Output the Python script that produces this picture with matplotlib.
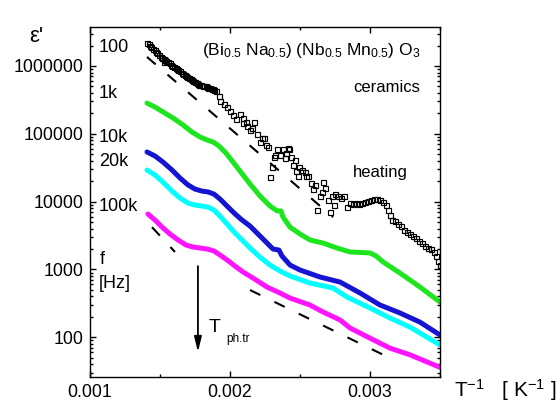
import matplotlib
matplotlib.use("Agg")
import matplotlib.pyplot as plt
from matplotlib.ticker import FixedLocator, FuncFormatter, LogLocator, NullFormatter

plt.rcParams["font.family"] = ["Liberation Sans", "DejaVu Sans"]
plt.rcParams["mathtext.fontset"] = "custom"
plt.rcParams["mathtext.rm"] = "Liberation Sans"
plt.rcParams["mathtext.it"] = "Liberation Sans:italic"
plt.rcParams["mathtext.bf"] = "Liberation Sans:bold"

# ---------------- data: inverse temperature [1/K] and permittivity ----------------
# f = 100 Hz (open squares)
inv_t_100 = [0.001407, 0.001418, 0.001429, 0.001439, 0.001450, 0.001461, 0.001471, 0.001482,
             0.001493, 0.001504, 0.001514, 0.001525, 0.001529, 0.001536, 0.001546, 0.001557,
             0.001568, 0.001579, 0.001589, 0.001600, 0.001611, 0.001621, 0.001632, 0.001643,
             0.001654, 0.001664, 0.001675, 0.001686, 0.001696, 0.001707, 0.001718, 0.001729,
             0.001739, 0.001750, 0.001761, 0.001771, 0.001782, 0.001793, 0.001804, 0.001814,
             0.001825, 0.001836, 0.001846, 0.001857, 0.001868, 0.001879, 0.001889, 0.001900,
             0.001921, 0.001929, 0.001957, 0.001979, 0.002000, 0.002021, 0.002043,
             0.002071, 0.002093, 0.002121, 0.002143, 0.002171, 0.002193, 0.002214, 0.002243,
             0.002271, 0.002286, 0.002300, 0.002314, 0.002336, 0.002357, 0.002379, 0.002400,
             0.002421, 0.002436, 0.002450, 0.002471, 0.002493, 0.002514, 0.002536, 0.002557,
             0.002579, 0.002593, 0.002621, 0.002643, 0.002664, 0.002679, 0.002700, 0.002714,
             0.002729, 0.002750, 0.002771, 0.002793, 0.002814, 0.002836, 0.002857, 0.002879,
             0.002900, 0.002921, 0.002943, 0.002964, 0.002986, 0.003007, 0.003029, 0.003050,
             0.003071, 0.003093, 0.003114, 0.003129, 0.003143, 0.003157, 0.003179, 0.003200,
             0.003221, 0.003243, 0.003264, 0.003286, 0.003307, 0.003329, 0.003350, 0.003371,
             0.003393, 0.003414, 0.003436, 0.003457, 0.003471, 0.003486, 0.003500,
             # scattered readings in the noisy range
             0.002093, 0.002114, 0.002157, 0.002229, 0.002257, 0.002321, 0.002393, 0.002414,
             0.002464, 0.002486, 0.002543, 0.002607, 0.002657, 0.002743]
eps_100 = [2.19e6, 2.08e6, 1.98e6, 1.88e6, 1.79e6, 1.70e6, 1.61e6, 1.53e6,
           1.46e6, 1.38e6, 1.31e6, 1.27e6, 1.15e6, 1.23e6, 1.19e6, 1.15e6,
           1.09e6, 1.03e6, 1.0e6, 9.7e5, 9.3e5, 9.0e5, 8.7e5, 8.4e5,
           8.0e5, 7.6e5, 7.3e5, 7.1e5, 6.8e5, 6.6e5, 6.4e5, 6.2e5,
           6.0e5, 5.8e5, 5.6e5, 5.4e5, 5.3e5, 5.2e5, 5.15e5, 5.1e5,
           5.0e5, 4.9e5, 4.8e5, 4.7e5, 4.6e5, 4.56e5, 4.4e5, 4.26e5,
           3.6e5, 3.03e5, 2.74e5, 2.47e5, 2.15e5, 1.88e5, 1.64e5,
           1.95e5, 1.43e5, 1.29e5, 1.13e5, 1.48e5, 9.8e4, 7.7e4, 8.6e4,
           6.3e4, 2.27e4, 3.2e4, 4.5e4, 5.9e4, 4.8e4, 5.9e4, 5.3e4,
           5.9e4, 4.5e4, 3.5e4, 2.8e4, 3.2e4, 2.9e4, 2.7e4, 2.35e4,
           1.91e4, 1.51e4, 7.6e3, 1.19e4, 1.98e4, 1.61e4, 1.07e4, 7.1e3,
           1.19e4, 1.31e4, 1.23e4, 1.15e4, 1.19e4, 8.2e3, 9.7e3, 9.3e3,
           9.7e3, 9.3e3, 9.7e3, 1.0e4, 1.03e4, 1.07e4, 1.11e4, 1.11e4,
           1.07e4, 1.0e4, 9.0e3, 7.6e3, 6.4e3, 5.4e3, 5.1e3, 4.7e3,
           4.4e3, 3.85e3, 3.6e3, 3.36e3, 3.13e3, 2.93e3, 2.64e3, 2.47e3,
           2.23e3, 2.08e3, 2.01e3, 1.82e3, 1.58e3, 1.34e3, 1.17e3,
           1.71e5, 1.49e5, 1.22e5, 8.7e4, 6.8e4, 4.9e4, 4.4e4, 6.2e4,
           4.1e4, 2.4e4, 2.4e4, 1.76e4, 1.39e4, 8.9e3]

# f = 1 kHz
inv_t_1k = [0.001407, 0.001464, 0.001521, 0.001593, 0.001664, 0.001729, 0.001786, 0.001836,
            0.001879, 0.001921, 0.001971, 0.002021, 0.002071, 0.002143, 0.002214, 0.002286,
            0.002336, 0.002364, 0.002379, 0.002429, 0.002500, 0.002571, 0.002664, 0.002764,
            0.002857, 0.003000, 0.003043, 0.003093, 0.003214, 0.003357, 0.003500]
eps_1k = [2.84e5, 2.48e5, 2.10e5, 1.71e5, 1.35e5, 1.06e5, 8.98e4, 8.1e4,
          7.57e4, 6.6e4, 5.2e4, 3.84e4, 2.83e4, 1.82e4, 1.21e4, 8.6e3,
          7.3e3, 7.3e3, 5.9e3, 4.2e3, 3.33e3, 2.72e3, 2.45e3, 2.07e3,
          1.81e3, 1.75e3, 1.58e3, 1.29e3, 885, 550, 330]

# f = 10 kHz
inv_t_10k = [0.001407, 0.001464, 0.001521, 0.001586, 0.001643, 0.001700, 0.001750, 0.001800,
             0.001843, 0.001886, 0.001929, 0.001979, 0.002029, 0.002079, 0.002143, 0.002200,
             0.002257, 0.002307, 0.002350, 0.002371, 0.002429, 0.002500, 0.002643, 0.002786,
             0.002929, 0.003071, 0.003214, 0.003357, 0.003500]
eps_10k = [5.4e4, 4.71e4, 3.84e4, 2.92e4, 2.23e4, 1.76e4, 1.53e4, 1.43e4,
           1.39e4, 1.29e4, 1.09e4, 8.6e3, 6.8e3, 5.5e3, 4.36e3, 3.33e3,
           2.54e3, 2.0e3, 1.93e3, 1.58e3, 1.16e3, 980, 773, 652,
           449, 299, 228, 167, 108]

# f = 20 kHz
inv_t_20k = [0.001407, 0.001464, 0.001521, 0.001586, 0.001643, 0.001700, 0.001750, 0.001800,
             0.001843, 0.001886, 0.001929, 0.001979, 0.002029, 0.002079, 0.002143, 0.002214,
             0.002286, 0.002357, 0.002429, 0.002571, 0.002736, 0.002836, 0.003000, 0.003143,
             0.003286, 0.003500]
eps_20k = [2.92e4, 2.47e4, 1.94e4, 1.43e4, 1.13e4, 9.5e3, 8.9e3, 8.6e3,
           8.3e3, 7.5e3, 6.1e3, 4.68e3, 3.56e3, 2.81e3, 2.07e3, 1.52e3,
           1.16e3, 947, 800, 630, 532, 392, 270, 192,
           141, 77]

# f = 100 kHz
inv_t_100k = [0.001414, 0.001464, 0.001514, 0.001571, 0.001629, 0.001686, 0.001736, 0.001786,
              0.001836, 0.001886, 0.001929, 0.001979, 0.002036, 0.002093, 0.002164, 0.002264,
              0.002357, 0.002429, 0.002571, 0.002664, 0.002786, 0.002857, 0.003000, 0.003143,
              0.003286, 0.003500]
eps_100k = [6.56e3, 5.35e3, 4.22e3, 3.33e3, 2.72e3, 2.29e3, 2.14e3, 2.07e3,
            2.0e3, 1.87e3, 1.63e3, 1.38e3, 1.12e3, 916, 747, 550,
            449, 378, 299, 236, 180, 137, 97, 69,
            55, 36]

# Arrhenius guide lines (start / end points)
guide_high_x = [0.001407, 0.002736]
guide_high_y = [1.36e6, 5.9e3]
guide_low_a_x = [0.001443, 0.001607]
guide_low_a_y = [4.2e3, 1.81e3]
guide_low_b_x = [0.002143, 0.003143]
guide_low_b_y = [497, 49.3]

# phase transition marker
t_phtr_inv = 0.001771
t_phtr_arrow_y = [1.12e3, 60.5]

freq_labels = ["100", "1k", "10k", "20k", "100k"]
y_ticks = [100, 1000, 10000, 100000, 1000000]
x_ticks = [0.001, 0.002, 0.003]
x_tick_labels = ["0.001", "0.002", "0.003"]

# ---------------- figure ----------------
W, H = 556, 403
fig = plt.figure(figsize=(W / 100, H / 100), dpi=100)
ax = fig.add_axes([90 / W, 1 - 376.7 / H, 350 / W, (376.7 - 27.3) / H])


def fp(x, y):
    """pixel position (from top-left) to figure fraction"""
    return x / W, 1 - y / H


line_kw = dict(lw=3.6, solid_capstyle="round", solid_joinstyle="round")
ax.plot(inv_t_1k, eps_1k, color="#1ee61e", **line_kw)
ax.plot(inv_t_10k, eps_10k, color="#1414d2", **line_kw)
ax.plot(inv_t_20k, eps_20k, color="#00ffff", **line_kw)
ax.plot(inv_t_100k, eps_100k, color="#ff14ff", **line_kw)
ax.plot(inv_t_100, eps_100, ls="none", marker="s", ms=3.6, mfc="none",
        mec="black", mew=0.85)

dash_kw = dict(color="black", lw=1.5, ls=(0, (5.5, 7.5)))
ax.plot(guide_high_x, guide_high_y, **dash_kw)
ax.plot(guide_low_a_x, guide_low_a_y, **dash_kw)
ax.plot(guide_low_b_x, guide_low_b_y, **dash_kw)

ax.annotate("", xy=(t_phtr_inv, t_phtr_arrow_y[1]), xytext=(t_phtr_inv, t_phtr_arrow_y[0]),
            arrowprops=dict(arrowstyle="-|>,head_length=0.9,head_width=0.22",
                            color="black", lw=1.3, mutation_scale=10,
                            shrinkA=0, shrinkB=0))

# axes
ax.set_yscale("log")
ax.set_xlim(0.001, 0.0035)
ax.set_ylim(26.2, 3.72e6)
ax.xaxis.set_major_locator(FixedLocator(x_ticks))
ax.xaxis.set_minor_locator(FixedLocator([0.0015, 0.0025, 0.0035]))
ax.set_xticklabels(x_tick_labels)
ax.yaxis.set_major_locator(FixedLocator(y_ticks))
ax.yaxis.set_major_formatter(FuncFormatter(lambda v, p: f"{int(round(v))}"))
ax.yaxis.set_minor_locator(LogLocator(base=10, subs=range(2, 10)))
ax.yaxis.set_minor_formatter(NullFormatter())
ax.tick_params(which="both", direction="in", top=True, right=True, width=1.0,
               labelsize=12.8, pad=5)
ax.tick_params(which="major", length=4)
ax.tick_params(which="minor", length=2.2)
for s in ax.spines.values():
    s.set_linewidth(1.0)

# frequency labels
for lab, ypx in zip(freq_labels, [47, 93, 137, 161, 207]):
    fig.text(*fp(99, ypx), lab, fontsize=13, ha="left", va="center")
fig.text(*fp(100, 260), "f", fontsize=13, ha="left", va="center")
fig.text(*fp(99, 284), "[Hz]", fontsize=13, ha="left", va="center")

fig.text(*fp(202, 51), r"(Bi$_{0.5}$ Na$_{0.5}$) (Nb$_{0.5}$ Mn$_{0.5}$) O$_{3}$",
         fontsize=12.5, ha="left", va="center")
fig.text(*fp(353, 88), "ceramics", fontsize=12, ha="left", va="center")
fig.text(*fp(353, 173), "heating", fontsize=12, ha="left", va="center")

fig.text(*fp(209, 327), "T", fontsize=14, ha="left", va="center")
fig.text(*fp(226, 339), "ph.tr", fontsize=8.5, ha="left", va="center")

fig.text(*fp(29, 37), "ε'", fontsize=16, ha="left", va="center")
fig.text(*fp(454, 390), r"T$^{-1}$   [ K$^{-1}$ ]", fontsize=15, ha="left", va="center")

fig.savefig("out.png", dpi=100)
